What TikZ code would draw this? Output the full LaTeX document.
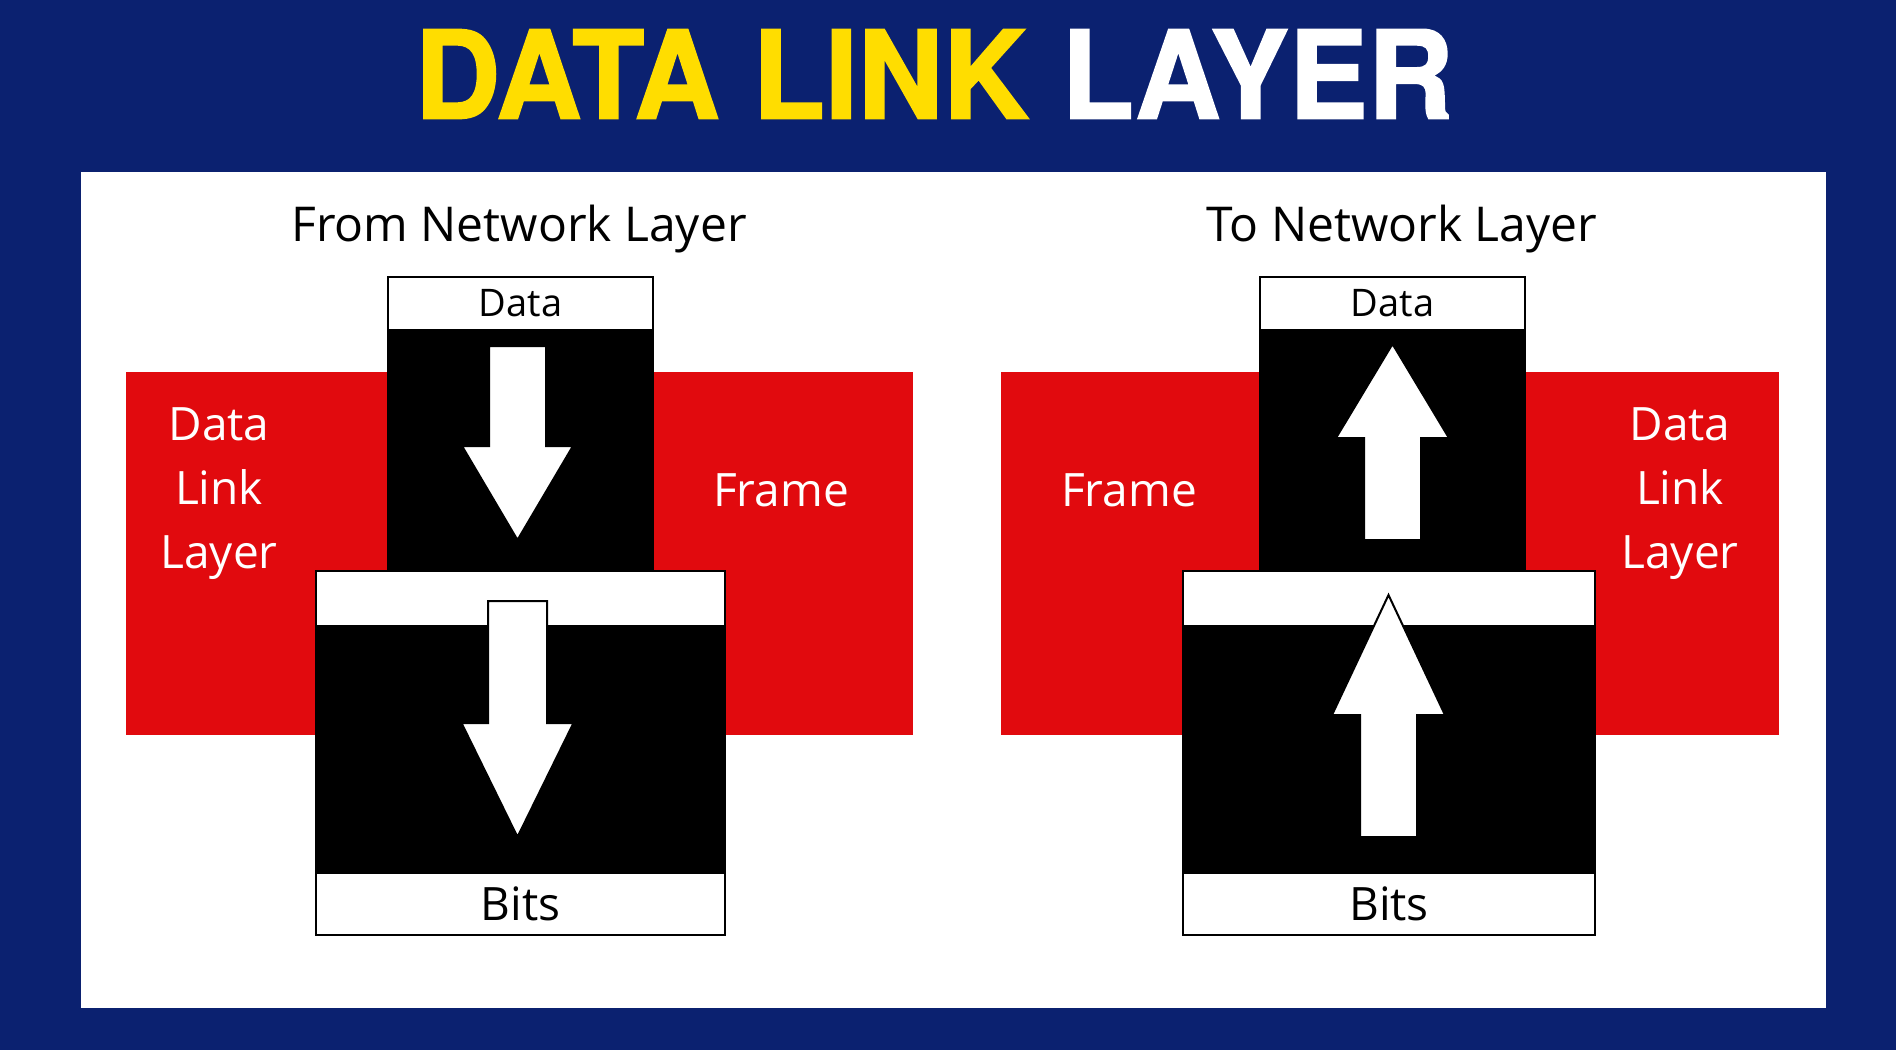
\documentclass[tikz,border=0pt]{standalone}
\usepackage{fontspec}
\setmainfont{Open Sans}
\newfontfamily\titlefont[BoldFeatures={FakeBold=1.5}]{TeX Gyre Heros}
\usepackage{graphicx}
\usetikzlibrary{positioning}
\definecolor{navy}{HTML}{0B2170}
\definecolor{red}{HTML}{E10A0E}
\definecolor{yellow}{HTML}{FFDD00}
\tikzset{
  band/.style={fill=red,inner sep=0pt,minimum height=181.5pt},
  whitecell/.style={draw=black,fill=white,line width=1pt,inner sep=0pt,outer sep=0pt,
    font=\fontsize{19}{23}\selectfont},
  blackcell/.style={draw=black,fill=black,line width=1pt,inner sep=0pt,outer sep=0pt},
  heading/.style={font=\fontsize{24}{29}\selectfont},
  redlabel/.style={text=white,align=center,font=\fontsize{23}{32}\selectfont},
  arrowbody/.style={fill=white,draw=black,line width=1pt}
}
% centre x, tail y, head base y, tip y, half shaft, half head
\newcommand{\blockarrow}[6]{%
  \filldraw[arrowbody] ({#1-#5},#2) -- ({#1+#5},#2) -- ({#1+#5},#3) -- ({#1+#6},#3)
    -- (#1,#4) -- ({#1-#6},#3) -- ({#1-#5},#3) -- cycle;}
\begin{document}
\begin{tikzpicture}[x=0.5pt,y=-0.5pt]
  \useasboundingbox (0,0) rectangle (1896,1050);
  \fill[navy] (0,0) rectangle (1896,1050);
  \fill[white] (81,172) rectangle (1826,1008);

  % title
  \node (title) at (934,74) {\scalebox{0.97}[1]{\titlefont\bfseries\fontsize{61}{61}\selectfont
    \textcolor{yellow}{DATA LINK} \textcolor{white}{LAYER}}};

  % sending side
  \node[band,minimum width=393.5pt] (bandL) at (519.5,553.5) {};
  \node[heading] (fromL) at (519,229) {From Network Layer};
  \node[whitecell,minimum width=132.5pt,minimum height=26.5pt] (dataL) at (520.5,303.5) {Data};
  \node[blackcell,minimum width=132.5pt,minimum height=120.5pt,below=0pt of dataL] (upperL) {};
  \node[whitecell,minimum width=204.5pt,minimum height=27.5pt,below=0pt of upperL] (hdrL) {};
  \node[blackcell,minimum width=204.5pt,minimum height=123.5pt,below=0pt of hdrL] (lowerL) {};
  \node[whitecell,minimum width=204.5pt,minimum height=31pt,below=0pt of lowerL,
    font=\fontsize{23}{27}\selectfont] (bitsL) {Bits};
  \node[redlabel] (dllL) at (219,494) {Data\\Link\\Layer};
  \node[redlabel] (frameL) at (781,490) {Frame};
  \blockarrow{517.5}{346}{446}{540}{28.5}{55.5}
  \blockarrow{517.5}{601}{723}{837}{29.5}{56}

  % receiving side
  \node[band,minimum width=389pt] (bandR) at (1390,553.5) {};
  \node[heading] (toR) at (1402,229) {To Network Layer};
  \node[whitecell,minimum width=132.5pt,minimum height=26.5pt] (dataR) at (1392.5,303.5) {Data};
  \node[blackcell,minimum width=132.5pt,minimum height=120.5pt,below=0pt of dataR] (upperR) {};
  \node[whitecell,minimum width=206pt,minimum height=27.5pt,below=0pt of upperR,xshift=-1.75pt] (hdrR) {};
  \node[blackcell,minimum width=206pt,minimum height=123.5pt,below=0pt of hdrR] (lowerR) {};
  \node[whitecell,minimum width=206pt,minimum height=31pt,below=0pt of lowerR,
    font=\fontsize{23}{27}\selectfont] (bitsR) {Bits};
  \node[redlabel] (frameR) at (1129,490) {Frame};
  \node[redlabel] (dllR) at (1680,494) {Data\\Link\\Layer};
  \blockarrow{1392.5}{540}{438}{344}{28.5}{56.5}
  \blockarrow{1388.5}{837}{715}{595}{28.5}{56.5}
\end{tikzpicture}
\end{document}
